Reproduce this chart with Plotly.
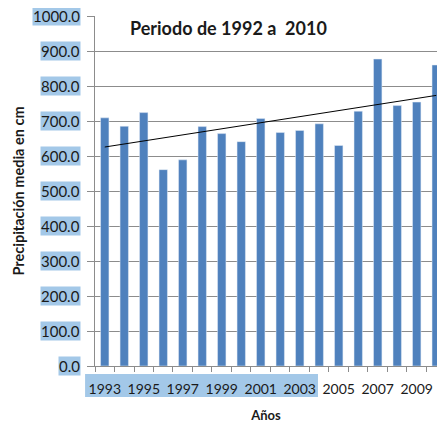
import numpy as np
import plotly.graph_objects as go

years = [str(y) for y in range(1993, 2011)]
precip = [709, 685, 724, 561, 589, 684, 664, 641, 707, 667, 673, 692, 630, 728, 877, 744, 754, 860]
y_ticks = [0, 100, 200, 300, 400, 500, 600, 700, 800, 900, 1000]
x_labels = [y if int(y) % 2 == 1 else "" for y in years]

xi = np.arange(len(precip))
slope, icpt = np.polyfit(xi, precip, 1)
trend = [icpt, icpt + slope * xi[-1]]

FONT = "Lato"
GRID = "#8c8c8c"
TXT = "#1a1a1a"
HILITE = "#a3c8e8"

fig = go.Figure()
fig.add_trace(go.Bar(x=years, y=precip, marker_color="#4f81bd", width=0.43))
fig.add_trace(go.Scatter(x=[years[0], years[-1]], y=trend, mode="lines",
                         line=dict(color="black", width=1)))

annotations = []
for v in y_ticks:
    annotations.append(dict(xref="paper", yref="y", x=0, y=v, xanchor="right",
                            yanchor="middle", xshift=-14, text=f"{v:.1f}",
                            showarrow=False, bgcolor=HILITE, borderpad=0,
                            font=dict(family=FONT, size=15, color=TXT)))
annotations.append(dict(xref="paper", yref="paper", x=0.097, y=0.966,
                        xanchor="left", yanchor="middle",
                        text="<b>Periodo de 1992 a\u00a0 2010</b>", showarrow=False,
                        font=dict(family=FONT, size=18, color=TXT)))

fig.update_layout(
    width=429, height=415,
    margin=dict(l=87, r=0, t=8, b=57),
    paper_bgcolor="white", plot_bgcolor="white",
    showlegend=False,
    annotations=annotations,
    shapes=[dict(type="rect", xref="paper", yref="paper", x0=-0.029, x1=0.652,
                 y0=-0.0886, y1=-0.0229, fillcolor=HILITE, line_width=0, layer="below")],
)
fig.update_xaxes(
    type="category", range=[-0.5, 17.04],
    tickvals=years, ticktext=x_labels, tickson="boundaries",
    ticks="outside", ticklen=5, tickcolor=GRID, showgrid=False,
    showline=True, linecolor=GRID, linewidth=1,
    tickfont=dict(family=FONT, size=14, color=TXT), tickangle=0,
    ticklabelstandoff=10,
    title=dict(text="<b>Años</b>", font=dict(family=FONT, size=13, color=TXT), standoff=16),
)
fig.update_yaxes(
    range=[0, 1000], tickvals=y_ticks, showticklabels=False,
    ticks="outside", ticklen=7, tickcolor=GRID,
    showgrid=True, gridcolor=GRID, gridwidth=1,
    showline=True, linecolor=GRID, linewidth=1, zeroline=False,
    title=dict(text="<b>Precipitación media en cm</b>",
               font=dict(family=FONT, size=14.5, color=TXT), standoff=58),
)
fig.write_html("out.html")
